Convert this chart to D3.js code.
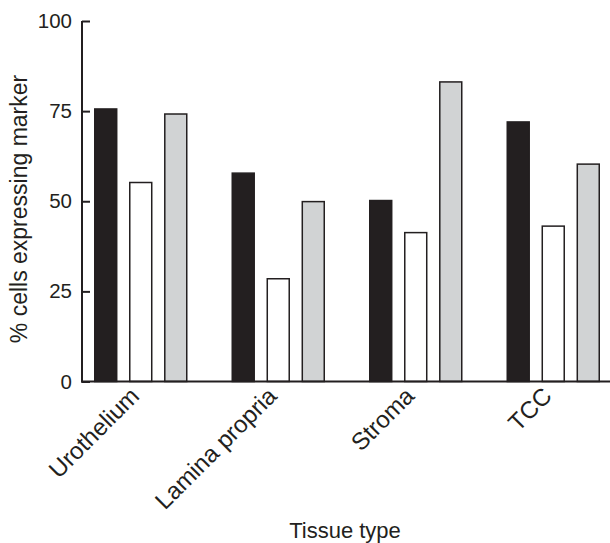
<!DOCTYPE html>
<html>
<head>
<meta charset="utf-8">
<script src="https://cdn.jsdelivr.net/npm/d3@7"></script>
<style>
  html, body { margin: 0; padding: 0; background: #fff; }
  svg { display: block; }
  text { font-family: "Liberation Sans", Arial, sans-serif; fill: #231f20; }
</style>
</head>
<body>
<svg id="chart" width="610" height="543"></svg>
<script>
const categories = ["Urothelium", "Lamina propria", "Stroma", "TCC"];
const seriesNames = ["Series 1", "Series 2", "Series 3"];
const series1 = [75.6, 57.8, 50.2, 72.0];
const series2 = [55.2, 28.5, 41.3, 43.1];
const series3 = [74.2, 49.9, 83.1, 60.3];
const yTicks = [0, 25, 50, 75, 100];
const seriesColors = ["#231f20", "#ffffff", "#d1d3d4"];

const allSeries = [series1, series2, series3];
const rows = categories.map((c, i) => ({
  category: c,
  values: seriesNames.map((s, j) => ({ key: s, value: allSeries[j][i], idx: j }))
}));

const svg = d3.select("#chart");
const axisLeftX = 82, axisRightX = 610, y0 = 381.5, yTop = 21;

const x = d3.scaleBand().domain(categories).range([94, 600]).paddingInner(0.32).paddingOuter(0);
const xs = d3.scaleBand().domain(seriesNames).range([0, x.bandwidth()]).paddingInner(0.33).paddingOuter(0);
const y = d3.scaleLinear().domain([0, 100]).range([y0, yTop]);
const color = d3.scaleOrdinal().domain(seriesNames).range(seriesColors);

// bars
const g = svg.append("g");
g.selectAll("g.grp").data(rows).join("g")
  .attr("class", "grp")
  .attr("transform", d => `translate(${x(d.category)},0)`)
  .selectAll("rect").data(d => d.values).join("rect")
  .attr("x", d => xs(d.key) + 0.75)
  .attr("width", xs.bandwidth() - 1.5)
  .attr("y", d => y(d.value))
  .attr("height", d => y0 - y(d.value))
  .attr("fill", d => color(d.key))
  .attr("stroke", "#231f20")
  .attr("stroke-width", 1.5);

// y axis
const yAxis = d3.axisRight(y).tickValues(yTicks).tickSize(8).tickFormat(d3.format("d"));
const ya = svg.append("g").attr("transform", `translate(${axisLeftX},0)`).call(yAxis);
ya.select(".domain").remove();
ya.selectAll(".tick line").attr("stroke", "#231f20").attr("stroke-width", 2);
ya.selectAll(".tick text")
  .attr("x", -10).attr("text-anchor", "end")
  .style("font-size", "20.5px").attr("fill", "#231f20");
svg.append("line")
  .attr("x1", axisLeftX).attr("x2", axisLeftX)
  .attr("y1", y(100)).attr("y2", y0 + 1)
  .attr("stroke", "#231f20").attr("stroke-width", 2);

// x axis
svg.append("line")
  .attr("x1", axisLeftX - 1).attr("x2", axisRightX)
  .attr("y1", y0).attr("y2", y0)
  .attr("stroke", "#231f20").attr("stroke-width", 2);

svg.append("g").selectAll("text").data(categories).join("text")
  .attr("transform", d => `translate(${x(d) + x.bandwidth() / 2},${y0 + 16}) rotate(-45)`)
  .attr("text-anchor", "end")
  .style("font-size", "24px")
  .text(d => d);

// axis titles
svg.append("text")
  .attr("x", 345).attr("y", 538)
  .attr("text-anchor", "middle")
  .style("font-size", "22px")
  .text("Tissue type");

svg.append("text")
  .attr("transform", `translate(27,${209}) rotate(-90)`)
  .attr("text-anchor", "middle")
  .style("font-size", "23px")
  .text("% cells expressing marker");
</script>
</body>
</html>
